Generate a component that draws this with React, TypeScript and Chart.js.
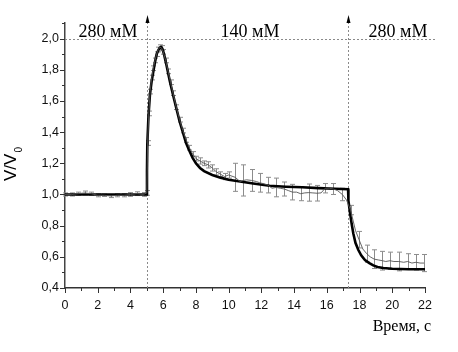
import { useEffect, useRef } from 'react';
import { Chart, registerables } from 'chart.js';

Chart.register(...registerables);

// Measured data (time, s / relative volume) with error bars (0 = no bar drawn)
const dataT = [0, 0.4, 0.8, 1.2, 1.6, 2.0, 2.4, 2.8, 3.2, 3.6, 4.0, 4.4, 4.8, 5.0, 5.05, 5.12, 5.2, 5.3, 5.4, 5.5, 5.6, 5.7, 5.8, 5.9, 6.0, 6.15, 6.3, 6.45, 6.6, 6.8, 7.0, 7.2, 7.4, 7.6, 7.8, 8.0, 8.25, 8.5, 8.75, 9.0, 9.25, 9.5, 9.75, 10.0, 10.4, 10.7, 10.9, 11.1, 11.4, 11.7, 11.9, 12.1, 12.4, 12.65, 12.9, 13.15, 13.4, 13.65, 13.9, 14.15, 14.4, 14.65, 14.9, 15.15, 15.4, 15.65, 15.9, 16.15, 16.4, 16.65, 16.95, 17.2, 17.45, 17.75, 17.97, 18.2, 18.44, 18.65, 18.9, 19.15, 19.4, 19.6, 19.86, 20.1, 20.4, 20.7, 20.94, 21.2, 21.45, 21.7, 21.94];
const dataV = [1.0, 1.0, 1.005, 1.01, 1.005, 0.995, 0.995, 0.99, 0.995, 0.995, 1.0, 1.005, 1.0, 1.01, 1.33, 1.52, 1.66, 1.75, 1.81, 1.86, 1.9, 1.93, 1.945, 1.94, 1.915, 1.86, 1.79, 1.72, 1.65, 1.56, 1.48, 1.41, 1.35, 1.3, 1.26, 1.23, 1.215, 1.2, 1.19, 1.17, 1.145, 1.13, 1.115, 1.125, 1.11, 1.083, 1.09, 1.094, 1.09, 1.083, 1.075, 1.07, 1.06, 1.04, 1.045, 1.04, 1.035, 1.025, 1.015, 1.015, 1.005, 1.01, 1.012, 1.01, 1.008, 1.01, 1.04, 1.04, 1.035, 1.025, 1.0, 0.965, 0.9, 0.77, 0.71, 0.65, 0.62, 0.6, 0.585, 0.58, 0.575, 0.57, 0.575, 0.57, 0.57, 0.565, 0.57, 0.56, 0.565, 0.56, 0.56];
const dataErr = [0.01, 0.01, 0.01, 0.012, 0.01, 0.01, 0.008, 0.01, 0.01, 0.01, 0.012, 0.012, 0.012, 0.015, 0.015, 0.015, 0.015, 0.015, 0.015, 0.015, 0.015, 0.015, 0.015, 0.015, 0.015, 0.015, 0.015, 0.015, 0.015, 0.015, 0.015, 0.015, 0.015, 0.015, 0.015, 0.015, 0.02, 0.015, 0.02, 0.02, 0.02, 0.015, 0.02, 0.02, 0.09, 0, 0.1, 0, 0.07, 0, 0.06, 0, 0.05, 0, 0.06, 0, 0.045, 0, 0.05, 0, 0.045, 0, 0.055, 0, 0.05, 0, 0.03, 0, 0.035, 0, 0.04, 0, 0.03, 0, 0.053, 0, 0.055, 0, 0.06, 0, 0.06, 0, 0.055, 0, 0.06, 0, 0.05, 0, 0.05, 0, 0.055];

// Model curve
const modelT = [0, 5, 5.01, 5.03, 5.1, 5.19, 5.3, 5.4, 5.5, 5.6, 5.7, 5.8, 5.87, 5.95, 6.05, 6.2, 6.4, 6.6, 6.8, 7.0, 7.2, 7.4, 7.6, 7.8, 8.0, 8.25, 8.5, 9.0, 9.5, 10, 10.7, 11.5, 12.5, 13.5, 14.5, 15.5, 16.5, 17.3, 17.32, 17.42, 17.52, 17.62, 17.75, 17.92, 18.1, 18.33, 18.6, 18.84, 19.1, 19.45, 20, 21, 22];
const modelV = [1.0, 1.0, 1.15, 1.32, 1.5, 1.64, 1.73, 1.79, 1.85, 1.9, 1.925, 1.942, 1.945, 1.935, 1.9, 1.83, 1.73, 1.64, 1.555, 1.47, 1.4, 1.33, 1.28, 1.235, 1.2, 1.17, 1.15, 1.125, 1.108, 1.095, 1.083, 1.07, 1.056, 1.05, 1.046, 1.041, 1.037, 1.034, 0.96, 0.88, 0.81, 0.75, 0.69, 0.645, 0.61, 0.58, 0.56, 0.545, 0.535, 0.528, 0.523, 0.52, 0.52];

const switchTimes = [5, 17.3];
const stepLabels = ['280 мМ', '140 мМ', '280 мМ'];
const xTitle = 'Время, с';
const yTitle = 'V/V';
const yTitleSub = '0';
const refLevel = 2.0;

const overlay = {
  id: 'overlay',
  beforeDatasetsDraw(chart: any) {
    const { ctx, scales } = chart;
    const x = scales.x;
    const y = scales.y;
    ctx.save();
    // dotted reference lines
    ctx.strokeStyle = '#8a8a8a';
    ctx.lineWidth = 1;
    ctx.setLineDash([2, 2]);
    const yRef = Math.round(y.getPixelForValue(refLevel)) + 0.5;
    ctx.beginPath();
    ctx.moveTo(x.left, yRef);
    ctx.lineTo(x.right + 11, yRef);
    ctx.stroke();
    switchTimes.forEach((t) => {
      const px = Math.round(x.getPixelForValue(t)) + 0.5;
      ctx.beginPath();
      ctx.moveTo(px, y.bottom);
      ctx.lineTo(px, 21);
      ctx.stroke();
    });
    ctx.setLineDash([]);
    // arrow heads
    ctx.fillStyle = '#000';
    switchTimes.forEach((t) => {
      const px = Math.round(x.getPixelForValue(t)) + 0.5;
      ctx.beginPath();
      ctx.moveTo(px, 15);
      ctx.lineTo(px - 2, 23);
      ctx.lineTo(px + 2, 23);
      ctx.closePath();
      ctx.fill();
    });
    // error bars
    ctx.strokeStyle = '#8c8c8c';
    ctx.lineWidth = 1;
    dataT.forEach((t, i) => {
      const e = dataErr[i];
      if (!e) return;
      const px = Math.round(x.getPixelForValue(t)) + 0.5;
      const y1 = y.getPixelForValue(dataV[i] + e);
      const y2 = y.getPixelForValue(dataV[i] - e);
      ctx.beginPath();
      ctx.moveTo(px, y1);
      ctx.lineTo(px, y2);
      ctx.moveTo(px - 2.5, y1);
      ctx.lineTo(px + 2.5, y1);
      ctx.moveTo(px - 2.5, y2);
      ctx.lineTo(px + 2.5, y2);
      ctx.stroke();
    });
    ctx.restore();
  },
  afterDraw(chart: any) {
    const { ctx, scales } = chart;
    const x = scales.x;
    const y = scales.y;
    ctx.save();
    // tick marks (major + minor)
    ctx.strokeStyle = '#333';
    ctx.lineWidth = 1;
    for (let v = 0; v <= 22; v += 1) {
      const px = Math.round(x.getPixelForValue(v)) + 0.5;
      const len = v % 2 === 0 ? 5 : 3;
      ctx.beginPath();
      ctx.moveTo(px, y.bottom);
      ctx.lineTo(px, y.bottom + len);
      ctx.stroke();
    }
    for (let k = 4; k <= 21; k += 1) {
      const py = Math.round(y.getPixelForValue(k / 10)) + 0.5;
      const len = k % 2 === 0 ? 5 : 3;
      ctx.beginPath();
      ctx.moveTo(x.left, py);
      ctx.lineTo(x.left - len, py);
      ctx.stroke();
    }
    // step labels
    ctx.fillStyle = '#000';
    ctx.font = '18px "Liberation Serif", "Times New Roman", serif';
    ctx.textAlign = 'center';
    ctx.textBaseline = 'alphabetic';
    ctx.fillText(stepLabels[0], 108, 37);
    ctx.fillText(stepLabels[1], 250, 37);
    ctx.fillText(stepLabels[2], 398, 37);
    // x title
    ctx.font = '16px "Liberation Serif", "Times New Roman", serif';
    ctx.textAlign = 'right';
    ctx.fillText(xTitle, 431, 331);
    // y title (rotated)
    ctx.translate(16, 181);
    ctx.rotate(-Math.PI / 2);
    ctx.textAlign = 'left';
    ctx.font = '17px "Liberation Sans", Arial, sans-serif';
    ctx.fillText(yTitle, 0, 0);
    const w = ctx.measureText(yTitle).width;
    ctx.font = '10px "Liberation Sans", Arial, sans-serif';
    ctx.fillText(yTitleSub, w + 1, 6);
    ctx.restore();
  },
};

export default function App() {
  const ref = useRef<HTMLCanvasElement | null>(null);
  useEffect(() => {
    if (!ref.current) return;
    const tickFont = { family: '"Liberation Sans", Arial, sans-serif', size: 12.5 };
    const chart = new Chart(ref.current, {
      type: 'line',
      data: {
        datasets: [
          {
            label: 'data',
            data: dataT.map((t, i) => ({ x: t, y: dataV[i] })),
            borderColor: '#555',
            borderWidth: 0.9,
            pointRadius: 0,
            tension: 0,
            fill: false,
          },
          {
            label: 'model',
            data: modelT.map((t, i) => ({ x: t, y: modelV[i] })),
            borderColor: '#000',
            borderWidth: 2.6,
            pointRadius: 0,
            tension: 0,
            fill: false,
          },
        ],
      },
      options: {
        animation: false,
        responsive: true,
        maintainAspectRatio: false,
        layout: { padding: { top: 23, right: 33, left: 0, bottom: 0 } },
        plugins: { legend: { display: false }, tooltip: { enabled: false } },
        scales: {
          x: {
            type: 'linear',
            min: 0,
            max: 22,
            grid: { display: false, drawTicks: false },
            border: { display: true, color: '#333', width: 1.5 },
            ticks: {
              stepSize: 2,
              padding: 10,
              color: '#111',
              font: tickFont,
              callback: (v: any) => String(v),
              maxRotation: 0,
            },
            afterFit: (s: any) => {
              s.height = 64;
            },
          },
          y: {
            type: 'linear',
            min: 0.4,
            max: 2.1,
            grid: { display: false, drawTicks: false },
            border: { display: true, color: '#444', width: 1.5 },
            ticks: {
              stepSize: 0.2,
              padding: 6,
              color: '#111',
              font: tickFont,
              autoSkip: false,
              callback: (v: any) => {
                const k = Math.round(Number(v) * 10);
                if (k % 2 !== 0) return '';
                return (k / 10).toFixed(1).replace('.', ',');
              },
            },
            afterFit: (s: any) => {
              s.width = 65;
            },
          },
        },
      },
      plugins: [overlay],
    });
    return () => chart.destroy();
  }, []);
  return (
    <div style={{ position: 'fixed', left: 0, top: 0, width: 458, height: 352, background: '#fff' }}>
      <canvas ref={ref} />
    </div>
  );
}
